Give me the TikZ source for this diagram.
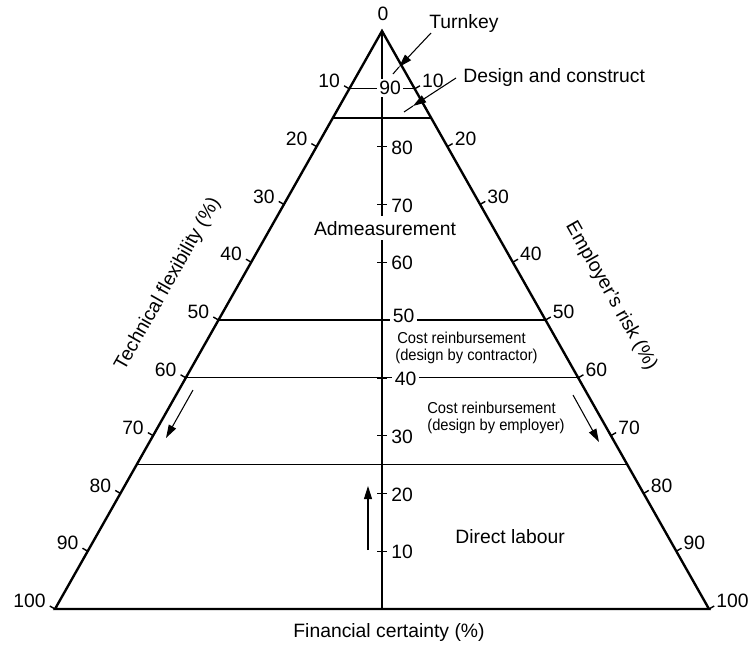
\documentclass[tikz,border=0pt]{standalone}
\usepackage{fontspec}
\setmainfont{Liberation Sans}
\newfontfamily\condfont[FakeStretch=0.93]{Liberation Sans}
\usetikzlibrary{calc,arrows.meta}
\begin{document}
\begin{tikzpicture}[x=0.02cm,y=-0.02cm,
  font=\fontsize{11}{13}\selectfont,
  edge/.style={line width=1.35pt},
  divline/.style={line width=0.65pt},
  tickmark/.style={line width=0.8pt},
  numlbl/.style={inner sep=0pt},
  blanklbl/.style={fill=white, inner sep=1.5pt},
  pointer/.style={line width=0.6pt},
  pointertip/.style={pointer, -{Triangle[length=7.5pt,width=4.6pt]}},
  smalltext/.style={font=\condfont\fontsize{9}{10}\selectfont, inner sep=0pt, anchor=base west},
]
\useasboundingbox (0,0) rectangle (750,650);
\coordinate (A) at (382,31);
\coordinate (BL) at (55,609);
\coordinate (BR) at (709,609);
\coordinate (O) at (382,609);

% division lines
\foreach \t in {0.1,0.5,0.6,0.75}
  \draw[divline] ($(A)!\t!(BL)$) -- ($(A)!\t!(BR)$);
\draw[line width=1.1pt] ($(A)!0.15!(BL)$) -- ($(A)!0.15!(BR)$);

% central axis
\draw[edge] (A) -- (O);
\foreach \v in {10,20,...,80}
  \draw[tickmark] ($(O)!\v/100!(A)$) +(-5,0) -- +(5,0);

% triangle
\draw[edge, line join=miter] (BL) -- (A) -- (BR) -- cycle;

% edge ticks and labels
\foreach \v in {10,20,...,100} {
  \draw[tickmark] ($(A)!\v/100!(BL)$) -- ++(-5.2,-3);
  \draw[tickmark] ($(A)!\v/100!(BR)$) -- ++(5.2,-3);
  \node[numlbl, anchor=east] (l\v) at ($(A)!\v/100!(BL)+(-9,-8)$) {\v};
  \node[numlbl, anchor=west] (r\v) at ($(A)!\v/100!(BR)+(7,-8)$) {\v};
}
\node[numlbl] (zero) at (383,14) {0};

% central labels
\node[blanklbl] (c90) at (390,88) {90};
\foreach \v in {80,70,60,30,20,10}
  \node[numlbl, anchor=west] (c\v) at ($(O)!\v/100!(A)+(9,1)$) {\v};
\node[blanklbl, anchor=west] (c50) at (390,316) {50};
\node[blanklbl, anchor=west] (c40) at (392,379) {40};

% region texts
\node[fill=white, inner sep=3pt, anchor=base] (adm) at (385,235) {Admeasurement};
\node[smalltext] (cr1a) at (397,343) {Cost reinbursement};
\node[smalltext] (cr1b) at (395,360) {(design by contractor)};
\node[smalltext] (cr2a) at (427,413) {Cost reinbursement};
\node[smalltext] (cr2b) at (427,430) {(design by employer)};
\node[inner sep=0pt, anchor=base west] (dl) at (455,543) {Direct labour};
\node[inner sep=0pt, anchor=base west] (tk) at (429,28) {Turnkey};
\node[inner sep=0pt, anchor=base west] (dc) at (463,82) {Design and construct};

% axis titles
\node[rotate=60.5, inner sep=0pt] (tf) at (168,284) {Technical flexibility (\%)};
\node[rotate=-60.5, inner sep=0pt] (er) at (611,296) {Employer's risk (\%)};
\node[inner sep=0pt, anchor=base] (fc) at (389,637) {Financial certainty (\%)};

% pointers
\coordinate (tkS) at (431,33);
\coordinate (tkH) at (399,67);
\coordinate (tkE) at (393,74);
\draw[pointertip] (tkS) -- (tkH);
\draw[pointer] (tkH) -- (tkE);
\coordinate (dcS) at (456,78);
\coordinate (dcH) at (413,106);
\coordinate (dcE) at (404,112);
\draw[pointertip] (dcS) -- (dcH);
\draw[pointer] (dcH) -- (dcE);

% direction arrows
\coordinate (la1) at (193,390);
\coordinate (la2) at (166,438);
\draw[pointertip] (la1) -- (la2);
\coordinate (ra1) at (573,395);
\coordinate (ra2) at (599,442);
\draw[pointertip] (ra1) -- (ra2);
\coordinate (ca1) at (368,550);
\coordinate (ca2) at (368,486);
\draw[pointertip] (ca1) -- (ca2);
\end{tikzpicture}
\end{document}
